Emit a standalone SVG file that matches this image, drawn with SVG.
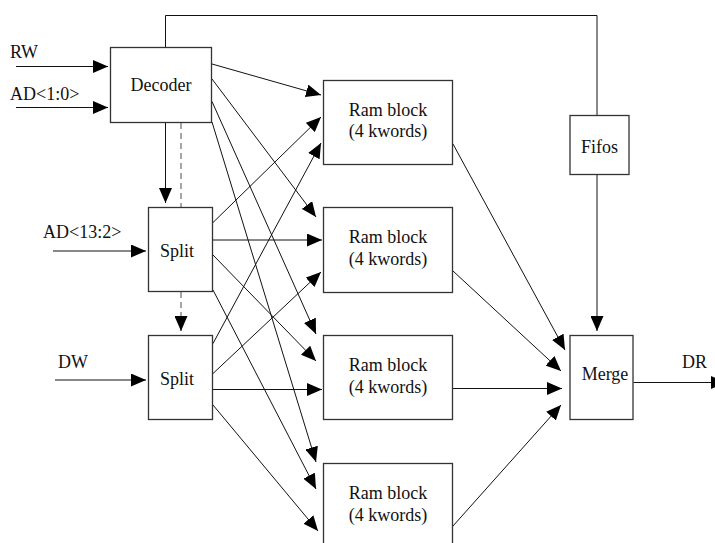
<svg xmlns="http://www.w3.org/2000/svg" width="715" height="543" viewBox="0 0 715 543">
  <style>
    .box { fill: #fff; stroke: #333; stroke-width: 1.3; }
    text { font-family: 'Liberation Serif', 'DejaVu Serif', serif; font-size: 18px; fill: #111; }
    .mid { text-anchor: middle; }
    .wire { fill: none; stroke: #111; stroke-width: 1; }
    .arr { marker-end: url(#head); }
    .dash { fill: none; stroke: #777; stroke-width: 1.3; stroke-dasharray: 6 4; }
  </style>
  <defs>
    <marker id="head" markerUnits="userSpaceOnUse" markerWidth="16" markerHeight="13" refX="15" refY="6.5" orient="auto">
      <path d="M0,0 L15,6.5 L0,13 z" fill="#000"/>
    </marker>
  </defs>
  <rect width="715" height="543" fill="#fff"/>

  <!-- connectors -->
  <g id="connectors">
    <!-- primary inputs -->
    <line class="wire arr" x1="16" y1="66.5" x2="108" y2="66.5"/>
    <line class="wire arr" x1="16" y1="107.5" x2="108" y2="107.5"/>
    <line class="wire arr" x1="53" y1="251" x2="146" y2="251"/>
    <line class="wire arr" x1="55" y1="380" x2="146" y2="380"/>

    <!-- decoder to split chain -->
    <line class="wire arr" x1="165.5" y1="122.5" x2="165.5" y2="203"/>
    <line class="dash" x1="181" y1="123" x2="181" y2="207"/>
    <line class="dash" x1="181" y1="292" x2="181" y2="320"/>
    <line class="wire arr" x1="181" y1="318" x2="181" y2="331"/>

    <!-- decoder to fifos loop -->
    <polyline class="wire" points="165.5,47.5 165.5,15.5 597,15.5 597,115.5"/>
    <line class="wire arr" x1="597" y1="174.5" x2="597" y2="331"/>

    <!-- decoder to ram blocks -->
    <line class="wire arr" x1="212" y1="64" x2="321" y2="95"/>
    <line class="wire arr" x1="212" y1="79" x2="316" y2="217"/>
    <line class="wire arr" x1="212" y1="101.5" x2="316" y2="334"/>
    <line class="wire arr" x1="212" y1="122" x2="316" y2="462"/>

    <!-- first split to ram blocks -->
    <line class="wire arr" x1="213" y1="222.5" x2="321" y2="117"/>
    <line class="wire arr" x1="213" y1="240" x2="322" y2="240"/>
    <line class="wire arr" x1="213" y1="255" x2="316" y2="361"/>
    <line class="wire arr" x1="213" y1="290" x2="316" y2="489"/>

    <!-- second split to ram blocks -->
    <line class="wire arr" x1="213" y1="343.5" x2="321" y2="143"/>
    <line class="wire arr" x1="213" y1="373.5" x2="321" y2="272"/>
    <line class="wire arr" x1="213" y1="389.5" x2="322" y2="389.5"/>
    <line class="wire arr" x1="213" y1="405" x2="318" y2="531"/>

    <!-- ram blocks to merge -->
    <line class="wire arr" x1="453" y1="144" x2="565" y2="350"/>
    <line class="wire arr" x1="453" y1="271" x2="561" y2="371"/>
    <line class="wire arr" x1="453" y1="388.5" x2="562" y2="388.5"/>
    <line class="wire arr" x1="453" y1="526" x2="561" y2="405"/>

    <!-- output -->
    <line class="wire arr" x1="633.5" y1="382.5" x2="726" y2="382.5"/>
  </g>

  <!-- input labels -->
  <g id="labels">
    <text x="10" y="58">RW</text>
    <text x="10" y="100">AD&lt;1:0&gt;</text>
    <text x="43" y="238">AD&lt;13:2&gt;</text>
    <text x="58" y="367.5">DW</text>
    <text x="682" y="367.5">DR</text>
  </g>

  <g id="decoder">
    <rect class="box" x="110.5" y="47.5" width="101" height="75"/>
    <text class="mid" x="161" y="90.5">Decoder</text>
  </g>

  <g id="split-addr">
    <rect class="box" x="148.5" y="207.5" width="64" height="84"/>
    <text class="mid" x="177" y="257">Split</text>
  </g>

  <g id="split-data">
    <rect class="box" x="148.5" y="335.5" width="64" height="84"/>
    <text class="mid" x="177" y="385">Split</text>
  </g>

  <g id="ram0">
    <rect class="box" x="323.5" y="80.5" width="129" height="84"/>
    <text class="mid" x="388" y="115.5">Ram block</text>
    <text class="mid" x="388" y="137">(4 kwords)</text>
  </g>

  <g id="ram1">
    <rect class="box" x="323.5" y="207.5" width="129" height="85"/>
    <text class="mid" x="388" y="242.5">Ram block</text>
    <text class="mid" x="388" y="264.5">(4 kwords)</text>
  </g>

  <g id="ram2">
    <rect class="box" x="323.5" y="335.5" width="129" height="84"/>
    <text class="mid" x="388" y="370.5">Ram block</text>
    <text class="mid" x="388" y="392.5">(4 kwords)</text>
  </g>

  <g id="ram3">
    <rect class="box" x="323.5" y="463.5" width="129" height="84"/>
    <text class="mid" x="388" y="498.5">Ram block</text>
    <text class="mid" x="388" y="520.5">(4 kwords)</text>
  </g>

  <g id="fifos">
    <rect class="box" x="570" y="115.5" width="59" height="59"/>
    <text class="mid" x="599.5" y="152.5">Fifos</text>
  </g>

  <g id="merge">
    <rect class="box" x="570" y="335.5" width="63" height="84"/>
    <text class="mid" x="605" y="380">Merge</text>
  </g>
</svg>
